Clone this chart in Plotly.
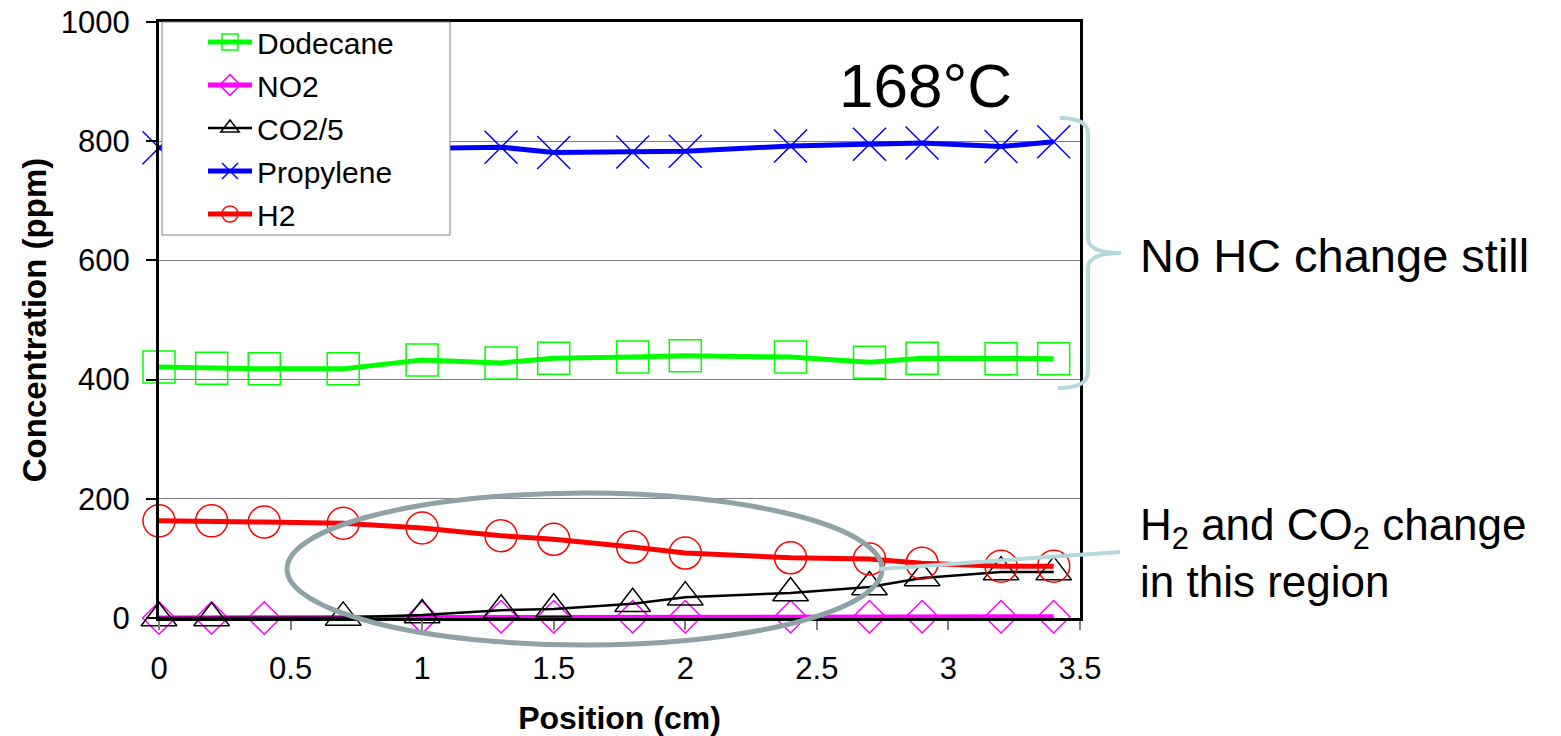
import plotly.graph_objects as go

# Axial concentration profiles at 168 °C
positions = [0, 0.2, 0.4, 0.7, 1.0, 1.3, 1.5, 1.8, 2.0, 2.4, 2.7, 2.9, 3.2, 3.4]
dodecane = [421, 419, 418, 418, 433, 428, 436, 438, 440, 438, 429, 436, 435, 435]
no2 = [0, 0, 0, None, 1, 2, 2, 2, 2, 2, 2, 2, 2, 2]
co2_div5 = [0, 0, None, 1, 5, 13, 15, 24, 35, 42, 52, 67, 77, 77]
propylene = [789, 787, 786, 786, 787, 790, 781, 782, 783, 792, 795, 797, 791, 799]
h2 = [163, 163, 161, 159, 151, 138, 132, 119, 109, 101, 99, 92, 87, 87]

x_ticks = [0, 0.5, 1, 1.5, 2, 2.5, 3, 3.5]
x_tick_text = ["0", "0.5", "1", "1.5", "2", "2.5", "3", "3.5"]
y_ticks = [0, 200, 400, 600, 800, 1000]
y_tick_text = ["0", "200", "400", "600", "800", "1000"]

FONT = "Liberation Sans, Arial, sans-serif"
W, H = 1561, 736
L, R, T, B = 159, 481, 22, 118
PW, PH = W - L - R, H - T - B


def px(x):
    return (x - L) / PW


def py(y):
    return (H - B - y) / PH


series = [
    ("Dodecane", dodecane, "#00FF00", 5, "square-open", 32, 1.5),
    ("NO2", no2, "#FF00FF", 5, "diamond-open", 25, 1.5),
    ("CO2/5", co2_div5, "#000000", 2.5, "triangle-up-open", 31, 1.5),
    ("Propylene", propylene, "#0000FF", 5, "x-thin-open", 33, 1.5),
    ("H2", h2, "#FF0000", 5, "circle-open", 32, 1.5),
]

fig = go.Figure()
for name, vals, color, lw, sym, size, mlw in series:
    fig.add_trace(go.Scatter(
        x=positions, y=vals, name=name, mode="lines+markers",
        connectgaps=True, cliponaxis=False, legendgroup=name,
        line=dict(color=color, width=lw),
        marker=dict(symbol=sym, size=size, color=color,
                    line=dict(color=color, width=mlw)),
    ))

shapes = [
    # legend frame (drawn over the traces, under the legend entries)
    dict(type="rect", xref="paper", yref="paper",
         x0=px(162), x1=px(450), y0=py(235), y1=py(22),
         fillcolor="white", line=dict(color="#808080", width=1),
         layer="above"),
    # highlight ellipse around the H2 / CO2 region
    dict(type="circle", xref="paper", yref="paper",
         x0=px(287), x1=px(882), y0=py(645), y1=py(493),
         line=dict(color="#8FA2A5", width=5), layer="above"),
    dict(type="line", xref="paper", yref="paper",
         x0=px(880), y0=py(569), x1=px(1120), y1=py(552),
         line=dict(color="#B5D8DB", width=4), layer="above"),
]


def brace_path(pts):
    out = []
    for cmd, coords in pts:
        s = " ".join(f"{px(a):.5f},{py(b):.5f}" for a, b in coords)
        out.append(f"{cmd}{s}")
    return " ".join(out)


brace = brace_path([
    ("M", [(1058, 388)]),
    ("Q", [(1088, 388), (1088, 372)]),
    ("L", [(1088, 268)]),
    ("Q", [(1088, 253), (1121, 253)]),
    ("Q", [(1088, 253), (1088, 238)]),
    ("L", [(1088, 134)]),
    ("Q", [(1088, 118), (1060, 118)]),
])
shapes.append(dict(type="path", xref="paper", yref="paper", path=brace,
                   line=dict(color="#B5D8DB", width=4), layer="above"))

annotations = [
    dict(text="168°C", xref="paper", yref="paper", x=px(925), y=py(86),
         xanchor="center", yanchor="middle", showarrow=False,
         font=dict(family=FONT, size=62, color="black")),
    dict(text="No HC change still", xref="paper", yref="paper",
         x=px(1138), y=py(255), xanchor="left", yanchor="middle",
         showarrow=False, font=dict(family=FONT, size=47, color="black")),
    dict(text="H<sub>2</sub> and CO<sub>2</sub> change<br>in this region",
         xref="paper", yref="paper", x=px(1138), y=py(553),
         xanchor="left", yanchor="middle", align="left", showarrow=False,
         font=dict(family=FONT, size=44, color="black")),
]

fig.update_layout(
    width=W, height=H,
    margin=dict(l=L, r=R, t=T, b=B, autoexpand=False),
    paper_bgcolor="white", plot_bgcolor="white",
    font=dict(family=FONT, color="black"),
    showlegend=True,
    legend=dict(x=px(162), y=py(16), xanchor="left", yanchor="top",
                bgcolor="rgba(0,0,0,0)", borderwidth=0,
                font=dict(family=FONT, size=30, color="black"),
                tracegroupgap=1, itemwidth=44, indentation=41),
    shapes=shapes, annotations=annotations,
)

fig.update_xaxes(
    range=[0, 3.5], tickvals=x_ticks, ticktext=x_tick_text,
    showgrid=False, zeroline=False, automargin=False,
    showline=True, mirror=True, linecolor="black", linewidth=3,
    ticks="outside", ticklen=9, tickwidth=1.5, tickcolor="#808080",
    tickfont=dict(family=FONT, size=31, color="black"),
    ticklabelstandoff=12,
    title=dict(text="<b>Position (cm)</b>", standoff=23,
               font=dict(family=FONT, size=32, color="black")),
)
fig.update_yaxes(
    range=[0, 1000], tickvals=y_ticks, ticktext=y_tick_text,
    showgrid=True, gridcolor="#808080", gridwidth=1, zeroline=False,
    automargin=False,
    showline=True, mirror=True, linecolor="black", linewidth=3,
    ticks="outside", ticklen=10, tickwidth=2, tickcolor="black",
    tickfont=dict(family=FONT, size=31, color="black"),
    ticklabelstandoff=10,
    title=dict(text="<b>Concentration (ppm)</b>", standoff=5,
               font=dict(family=FONT, size=33, color="black")),
)

fig.write_html("out.html")
